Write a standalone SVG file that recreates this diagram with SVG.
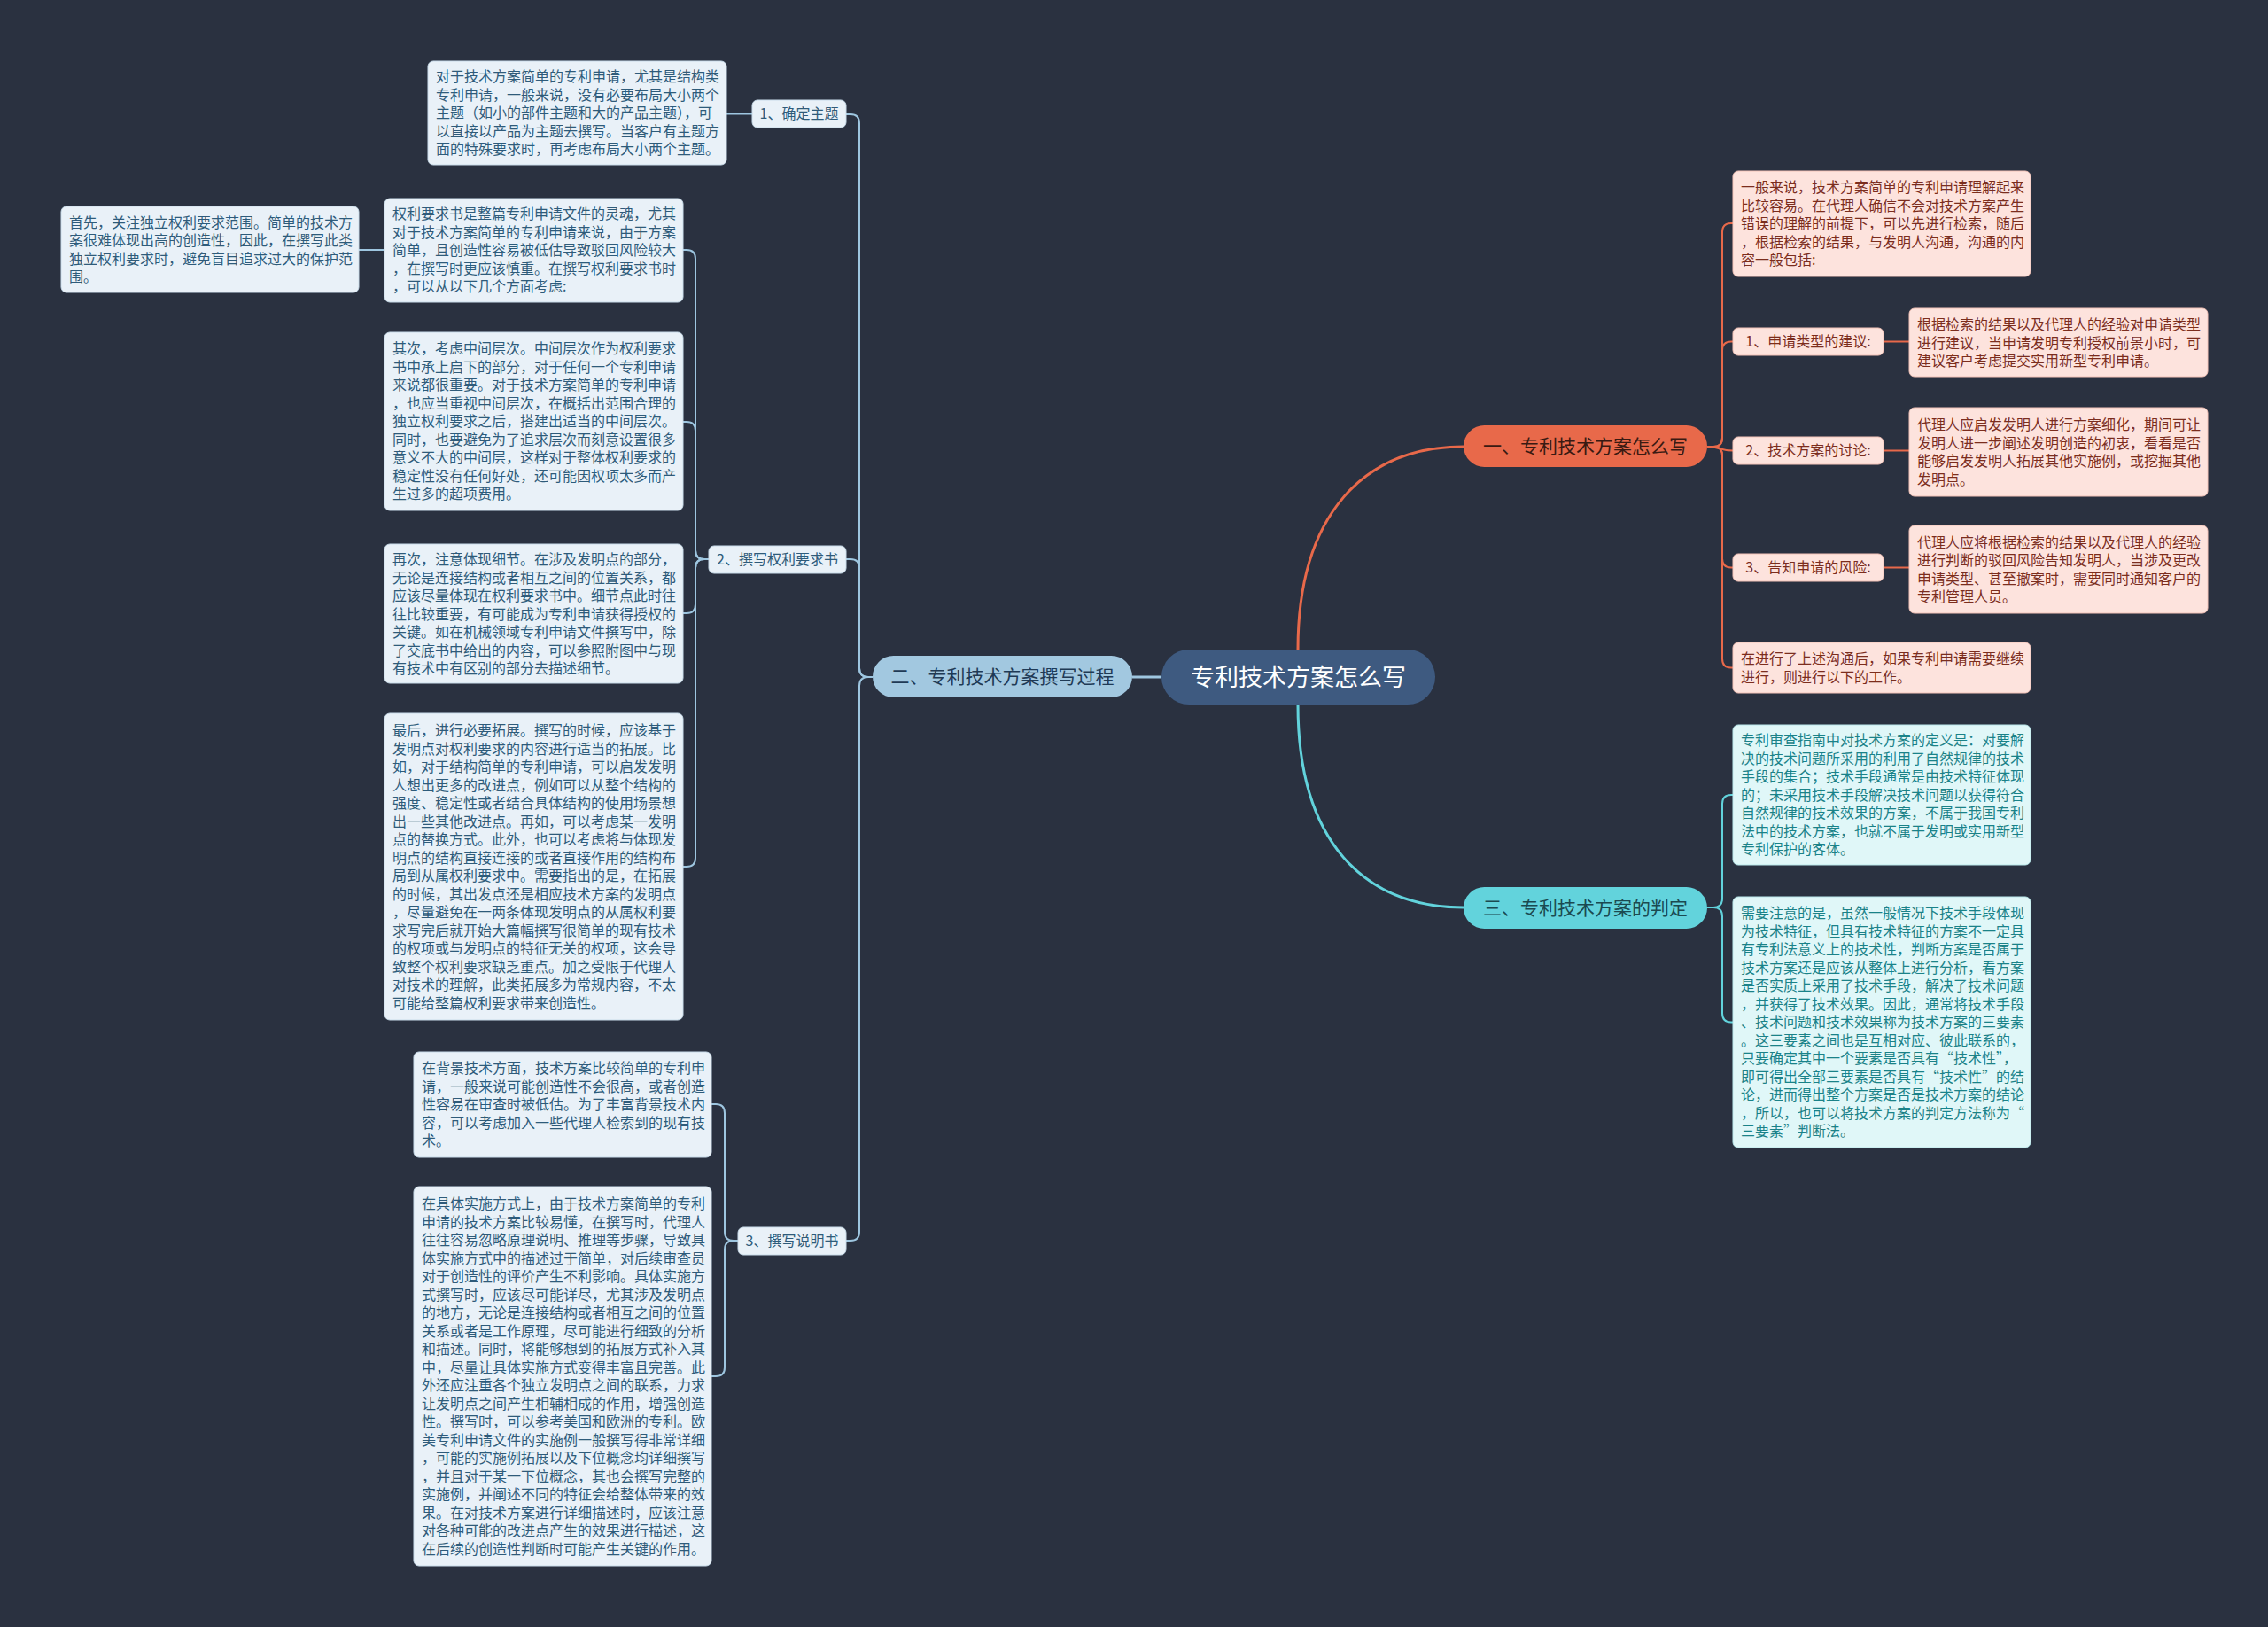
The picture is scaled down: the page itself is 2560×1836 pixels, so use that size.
<svg xmlns="http://www.w3.org/2000/svg" width="2560" height="1836" viewBox="0 0 2560 1836">
<style>
text{font-family:"Noto Sans CJK SC","Noto Sans",sans-serif;}
.bg{fill:#2a3140;}
.lb{fill:#e9f1f8;stroke:#c9dcea;stroke-width:1;}
.lbt{fill:#2e5b7a;font-size:16px;}
.pk{fill:#fde3dd;stroke:#f3c3b8;stroke-width:1;}
.pkt{fill:#7b2d1d;font-size:16px;}
.cy{fill:#e0f7f8;stroke:#b9e8eb;stroke-width:1;}
.cyt{fill:#1a8288;font-size:16px;}
.c2{fill:none;stroke:#9ec6e0;stroke-width:2;}
.c1{fill:none;stroke:#e8694a;stroke-width:2;}
.c3{fill:none;stroke:#62d3dc;stroke-width:2;}
.mid{text-anchor:middle;}
</style>
<rect class="bg" x="0" y="0" width="2560" height="1836"/>
<g id="connectors">
<path class="c2" d="M1311 764 H1278" style="stroke-width:3"/>
<path class="c1" d="M1465 733 C1465 580 1540 504 1652 504" style="stroke-width:3"/>
<path class="c3" d="M1465 795 C1465 950 1540 1024 1652 1024" style="stroke-width:3"/>
<path class="c2" d="M985 764 H980 Q970 764 970 754 V139 Q970 129 960 129 H955"/>
<path class="c2" d="M985 764 H980 Q970 764 970 754 V641 Q970 631 960 631 H955"/>
<path class="c2" d="M985 764 H980 Q970 764 970 774 V1390 Q970 1400 960 1400 H955"/>
<path class="c2" d="M849 128.5 H820"/>
<path class="c2" d="M800 631 H795 Q785 631 785 621 V292 Q785 282 775 282 H771"/>
<path class="c2" d="M800 631 H795 Q785 631 785 621 V486 Q785 476 775 476 H771"/>
<path class="c2" d="M800 631 H795 Q785 631 785 641 V682 Q785 692 775 692 H771"/>
<path class="c2" d="M800 631 H795 Q785 631 785 641 V968 Q785 978 775 978 H771"/>
<path class="c2" d="M434 282 H405"/>
<path class="c2" d="M833 1400 H828 Q818 1400 818 1390 V1256 Q818 1246 808 1246 H803"/>
<path class="c2" d="M833 1400 H828 Q818 1400 818 1410 V1543 Q818 1553 808 1553 H803"/>
<path class="c1" d="M1927 504 H1934 Q1944 504 1944 494 V262 Q1944 252 1954 252 H1956"/>
<path class="c1" d="M1927 504 H1934 Q1944 504 1944 494 V395.5 Q1944 385.5 1954 385.5 H1956"/>
<path class="c1" d="M1927 504 C1940 504 1942 508.5 1956 508.5"/>
<path class="c1" d="M1927 504 H1934 Q1944 504 1944 514 V630.5 Q1944 640.5 1954 640.5 H1956"/>
<path class="c1" d="M1927 504 H1934 Q1944 504 1944 514 V743.5 Q1944 753.5 1954 753.5 H1956"/>
<path class="c1" d="M2126 385.5 H2155"/>
<path class="c1" d="M2126 508.5 H2155"/>
<path class="c1" d="M2126 640.5 H2155"/>
<path class="c3" d="M1927 1024 H1934 Q1944 1024 1944 1014 V907 Q1944 897 1954 897 H1956"/>
<path class="c3" d="M1927 1024 H1934 Q1944 1024 1944 1034 V1143.5 Q1944 1153.5 1954 1153.5 H1956"/>
</g>
<g id="center">
<rect x="1311" y="733" width="309" height="62" rx="31" fill="#3e5a80"/>
<text class="mid" x="1465.5" y="773.5" fill="#ffffff" style="font-size:27px">专利技术方案怎么写</text>
</g>
<g id="branch1">
<rect x="1652" y="480" width="275" height="47" rx="23.5" fill="#e8694a"/>
<text class="mid" x="1789.5" y="511" fill="#3a1a12" style="font-size:21px">一、专利技术方案怎么写</text>
</g>
<g id="branch2">
<rect x="985" y="740" width="293" height="47" rx="23.5" fill="#a2c8e0"/>
<text class="mid" x="1131.5" y="771" fill="#1f3a55" style="font-size:21px">二、专利技术方案撰写过程</text>
</g>
<g id="branch3">
<rect x="1652" y="1001" width="275" height="47" rx="23.5" fill="#62d3dc"/>
<text class="mid" x="1789.5" y="1032" fill="#1b4a50" style="font-size:21px">三、专利技术方案的判定</text>
</g>
<g id="sub2-1">
<rect class="lb" x="849" y="113" width="106" height="31" rx="6"/>
<text class="lbt mid" x="902" y="134">1、确定主题</text>
</g>
<g id="sub2-2">
<rect class="lb" x="800" y="616" width="155" height="31" rx="6"/>
<text class="lbt mid" x="877.5" y="637">2、撰写权利要求书</text>
</g>
<g id="sub2-3">
<rect class="lb" x="833" y="1385" width="122" height="31" rx="6"/>
<text class="lbt mid" x="894" y="1406">3、撰写说明书</text>
</g>
<g id="leafA">
<rect class="lb" x="483" y="69" width="337" height="117" rx="6"/>
<text class="lbt" x="492" y="92"><tspan x="492">对于技术方案简单的专利申请，尤其是结构类</tspan><tspan x="492" dy="20.5">专利申请，一般来说，没有必要布局大小两个</tspan><tspan x="492" dy="20.5">主题（如小的部件主题和大的产品主题），可</tspan><tspan x="492" dy="20.5">以直接以产品为主题去撰写。当客户有主题方</tspan><tspan x="492" dy="20.5">面的特殊要求时，再考虑布局大小两个主题。</tspan></text>
</g>
<g id="leafB">
<rect class="lb" x="434" y="224" width="337" height="117" rx="6"/>
<text class="lbt" x="443" y="247"><tspan x="443">权利要求书是整篇专利申请文件的灵魂，尤其</tspan><tspan x="443" dy="20.5">对于技术方案简单的专利申请来说，由于方案</tspan><tspan x="443" dy="20.5">简单，且创造性容易被低估导致驳回风险较大</tspan><tspan x="443" dy="20.5">，在撰写时更应该慎重。在撰写权利要求书时</tspan><tspan x="443" dy="20.5">，可以从以下几个方面考虑:</tspan></text>
</g>
<g id="leafB1">
<rect class="lb" x="69" y="233" width="336" height="97" rx="6"/>
<text class="lbt" x="78" y="256.5"><tspan x="78">首先，关注独立权利要求范围。简单的技术方</tspan><tspan x="78" dy="20.5">案很难体现出高的创造性，因此，在撰写此类</tspan><tspan x="78" dy="20.5">独立权利要求时，避免盲目追求过大的保护范</tspan><tspan x="78" dy="20.5">围。</tspan></text>
</g>
<g id="leafC">
<rect class="lb" x="434" y="375" width="337" height="201" rx="6"/>
<text class="lbt" x="443" y="399"><tspan x="443">其次，考虑中间层次。中间层次作为权利要求</tspan><tspan x="443" dy="20.5">书中承上启下的部分，对于任何一个专利申请</tspan><tspan x="443" dy="20.5">来说都很重要。对于技术方案简单的专利申请</tspan><tspan x="443" dy="20.5">，也应当重视中间层次，在概括出范围合理的</tspan><tspan x="443" dy="20.5">独立权利要求之后，搭建出适当的中间层次。</tspan><tspan x="443" dy="20.5">同时，也要避免为了追求层次而刻意设置很多</tspan><tspan x="443" dy="20.5">意义不大的中间层，这样对于整体权利要求的</tspan><tspan x="443" dy="20.5">稳定性没有任何好处，还可能因权项太多而产</tspan><tspan x="443" dy="20.5">生过多的超项费用。</tspan></text>
</g>
<g id="leafD">
<rect class="lb" x="434" y="614" width="337" height="157" rx="6"/>
<text class="lbt" x="443" y="637"><tspan x="443">再次，注意体现细节。在涉及发明点的部分，</tspan><tspan x="443" dy="20.5">无论是连接结构或者相互之间的位置关系，都</tspan><tspan x="443" dy="20.5">应该尽量体现在权利要求书中。细节点此时往</tspan><tspan x="443" dy="20.5">往比较重要，有可能成为专利申请获得授权的</tspan><tspan x="443" dy="20.5">关键。如在机械领域专利申请文件撰写中，除</tspan><tspan x="443" dy="20.5">了交底书中给出的内容，可以参照附图中与现</tspan><tspan x="443" dy="20.5">有技术中有区别的部分去描述细节。</tspan></text>
</g>
<g id="leafE">
<rect class="lb" x="434" y="805" width="337" height="346" rx="6"/>
<text class="lbt" x="443" y="830"><tspan x="443">最后，进行必要拓展。撰写的时候，应该基于</tspan><tspan x="443" dy="20.5">发明点对权利要求的内容进行适当的拓展。比</tspan><tspan x="443" dy="20.5">如，对于结构简单的专利申请，可以启发发明</tspan><tspan x="443" dy="20.5">人想出更多的改进点，例如可以从整个结构的</tspan><tspan x="443" dy="20.5">强度、稳定性或者结合具体结构的使用场景想</tspan><tspan x="443" dy="20.5">出一些其他改进点。再如，可以考虑某一发明</tspan><tspan x="443" dy="20.5">点的替换方式。此外，也可以考虑将与体现发</tspan><tspan x="443" dy="20.5">明点的结构直接连接的或者直接作用的结构布</tspan><tspan x="443" dy="20.5">局到从属权利要求中。需要指出的是，在拓展</tspan><tspan x="443" dy="20.5">的时候，其出发点还是相应技术方案的发明点</tspan><tspan x="443" dy="20.5">，尽量避免在一两条体现发明点的从属权利要</tspan><tspan x="443" dy="20.5">求写完后就开始大篇幅撰写很简单的现有技术</tspan><tspan x="443" dy="20.5">的权项或与发明点的特征无关的权项，这会导</tspan><tspan x="443" dy="20.5">致整个权利要求缺乏重点。加之受限于代理人</tspan><tspan x="443" dy="20.5">对技术的理解，此类拓展多为常规内容，不太</tspan><tspan x="443" dy="20.5">可能给整篇权利要求带来创造性。</tspan></text>
</g>
<g id="leafF">
<rect class="lb" x="467" y="1187" width="336" height="119" rx="6"/>
<text class="lbt" x="476" y="1211"><tspan x="476">在背景技术方面，技术方案比较简单的专利申</tspan><tspan x="476" dy="20.5">请，一般来说可能创造性不会很高，或者创造</tspan><tspan x="476" dy="20.5">性容易在审查时被低估。为了丰富背景技术内</tspan><tspan x="476" dy="20.5">容，可以考虑加入一些代理人检索到的现有技</tspan><tspan x="476" dy="20.5">术。</tspan></text>
</g>
<g id="leafG">
<rect class="lb" x="467" y="1339" width="336" height="428" rx="6"/>
<text class="lbt" x="476" y="1364"><tspan x="476">在具体实施方式上，由于技术方案简单的专利</tspan><tspan x="476" dy="20.5">申请的技术方案比较易懂，在撰写时，代理人</tspan><tspan x="476" dy="20.5">往往容易忽略原理说明、推理等步骤，导致具</tspan><tspan x="476" dy="20.5">体实施方式中的描述过于简单，对后续审查员</tspan><tspan x="476" dy="20.5">对于创造性的评价产生不利影响。具体实施方</tspan><tspan x="476" dy="20.5">式撰写时，应该尽可能详尽，尤其涉及发明点</tspan><tspan x="476" dy="20.5">的地方，无论是连接结构或者相互之间的位置</tspan><tspan x="476" dy="20.5">关系或者是工作原理，尽可能进行细致的分析</tspan><tspan x="476" dy="20.5">和描述。同时，将能够想到的拓展方式补入其</tspan><tspan x="476" dy="20.5">中，尽量让具体实施方式变得丰富且完善。此</tspan><tspan x="476" dy="20.5">外还应注重各个独立发明点之间的联系，力求</tspan><tspan x="476" dy="20.5">让发明点之间产生相辅相成的作用，增强创造</tspan><tspan x="476" dy="20.5">性。撰写时，可以参考美国和欧洲的专利。欧</tspan><tspan x="476" dy="20.5">美专利申请文件的实施例一般撰写得非常详细</tspan><tspan x="476" dy="20.5">，可能的实施例拓展以及下位概念均详细撰写</tspan><tspan x="476" dy="20.5">，并且对于某一下位概念，其也会撰写完整的</tspan><tspan x="476" dy="20.5">实施例，并阐述不同的特征会给整体带来的效</tspan><tspan x="476" dy="20.5">果。在对技术方案进行详细描述时，应该注意</tspan><tspan x="476" dy="20.5">对各种可能的改进点产生的效果进行描述，这</tspan><tspan x="476" dy="20.5">在后续的创造性判断时可能产生关键的作用。</tspan></text>
</g>
<g id="leafH">
<rect class="pk" x="1956" y="193" width="336" height="119" rx="6"/>
<text class="pkt" x="1965" y="217"><tspan x="1965">一般来说，技术方案简单的专利申请理解起来</tspan><tspan x="1965" dy="20.5">比较容易。在代理人确信不会对技术方案产生</tspan><tspan x="1965" dy="20.5">错误的理解的前提下，可以先进行检索，随后</tspan><tspan x="1965" dy="20.5">，根据检索的结果，与发明人沟通，沟通的内</tspan><tspan x="1965" dy="20.5">容一般包括:</tspan></text>
</g>
<g id="sub1-1">
<rect class="pk" x="1956" y="370" width="170" height="31" rx="6"/>
<text class="pkt mid" x="2041" y="391">1、申请类型的建议:</text>
</g>
<g id="sub1-2">
<rect class="pk" x="1956" y="493" width="170" height="31" rx="6"/>
<text class="pkt mid" x="2041" y="514">2、技术方案的讨论:</text>
</g>
<g id="sub1-3">
<rect class="pk" x="1956" y="625" width="170" height="31" rx="6"/>
<text class="pkt mid" x="2041" y="646">3、告知申请的风险:</text>
</g>
<g id="leafI">
<rect class="pk" x="2155" y="348" width="337" height="77" rx="6"/>
<text class="pkt" x="2164" y="372"><tspan x="2164">根据检索的结果以及代理人的经验对申请类型</tspan><tspan x="2164" dy="20.5">进行建议，当申请发明专利授权前景小时，可</tspan><tspan x="2164" dy="20.5">建议客户考虑提交实用新型专利申请。</tspan></text>
</g>
<g id="leafJ">
<rect class="pk" x="2155" y="460" width="337" height="100" rx="6"/>
<text class="pkt" x="2164" y="485"><tspan x="2164">代理人应启发发明人进行方案细化，期间可让</tspan><tspan x="2164" dy="20.5">发明人进一步阐述发明创造的初衷，看看是否</tspan><tspan x="2164" dy="20.5">能够启发发明人拓展其他实施例，或挖掘其他</tspan><tspan x="2164" dy="20.5">发明点。</tspan></text>
</g>
<g id="leafK">
<rect class="pk" x="2155" y="593" width="337" height="99" rx="6"/>
<text class="pkt" x="2164" y="617.5"><tspan x="2164">代理人应将根据检索的结果以及代理人的经验</tspan><tspan x="2164" dy="20.5">进行判断的驳回风险告知发明人，当涉及更改</tspan><tspan x="2164" dy="20.5">申请类型、甚至撤案时，需要同时通知客户的</tspan><tspan x="2164" dy="20.5">专利管理人员。</tspan></text>
</g>
<g id="leafN">
<rect class="pk" x="1956" y="725" width="336" height="57" rx="6"/>
<text class="pkt" x="1965" y="749"><tspan x="1965">在进行了上述沟通后，如果专利申请需要继续</tspan><tspan x="1965" dy="20.5">进行，则进行以下的工作。</tspan></text>
</g>
<g id="leafL">
<rect class="cy" x="1956" y="818" width="336" height="158" rx="6"/>
<text class="cyt" x="1965" y="841"><tspan x="1965">专利审查指南中对技术方案的定义是：对要解</tspan><tspan x="1965" dy="20.5">决的技术问题所采用的利用了自然规律的技术</tspan><tspan x="1965" dy="20.5">手段的集合；技术手段通常是由技术特征体现</tspan><tspan x="1965" dy="20.5">的；未采用技术手段解决技术问题以获得符合</tspan><tspan x="1965" dy="20.5">自然规律的技术效果的方案，不属于我国专利</tspan><tspan x="1965" dy="20.5">法中的技术方案，也就不属于发明或实用新型</tspan><tspan x="1965" dy="20.5">专利保护的客体。</tspan></text>
</g>
<g id="leafM">
<rect class="cy" x="1956" y="1012" width="336" height="283" rx="6"/>
<text class="cyt" x="1965" y="1036"><tspan x="1965">需要注意的是，虽然一般情况下技术手段体现</tspan><tspan x="1965" dy="20.5">为技术特征，但具有技术特征的方案不一定具</tspan><tspan x="1965" dy="20.5">有专利法意义上的技术性，判断方案是否属于</tspan><tspan x="1965" dy="20.5">技术方案还是应该从整体上进行分析，看方案</tspan><tspan x="1965" dy="20.5">是否实质上采用了技术手段，解决了技术问题</tspan><tspan x="1965" dy="20.5">，并获得了技术效果。因此，通常将技术手段</tspan><tspan x="1965" dy="20.5">、技术问题和技术效果称为技术方案的三要素</tspan><tspan x="1965" dy="20.5">。这三要素之间也是互相对应、彼此联系的，</tspan><tspan x="1965" dy="20.5">只要确定其中一个要素是否具有“技术性”，</tspan><tspan x="1965" dy="20.5">即可得出全部三要素是否具有“技术性”的结</tspan><tspan x="1965" dy="20.5">论，进而得出整个方案是否是技术方案的结论</tspan><tspan x="1965" dy="20.5">，所以，也可以将技术方案的判定方法称为“</tspan><tspan x="1965" dy="20.5">三要素”判断法。</tspan></text>
</g>
</svg>
